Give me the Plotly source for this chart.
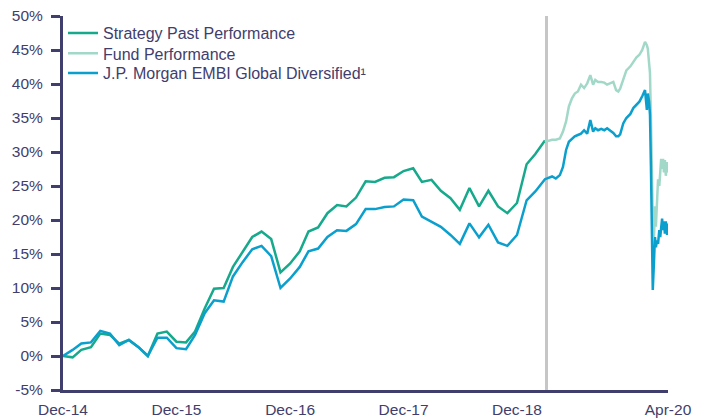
import pandas as pd
import plotly.graph_objects as go

# Monthly section (Dec-14 .. Mar-19)
monthly_dates = [d.strftime("%Y-%m-%d") for d in pd.date_range("2014-12-31", "2019-03-31", freq="ME")]

strategy = [0.0, -0.2, 0.9, 1.3, 3.3, 3.1, 1.8, 2.35, 1.3, 0.0,
            3.3, 3.6, 2.1, 2.0, 3.6, 7.0, 9.9, 10.0, 13.1, 15.3,
            17.5, 18.3, 17.2, 12.3, 13.6, 15.4, 18.3, 18.9, 21.0, 22.2,
            22.0, 23.3, 25.7, 25.6, 26.2, 26.3, 27.2, 27.6, 25.6, 25.9,
            24.3, 23.2, 21.5, 24.7, 22.0, 24.3, 22.0, 21.0, 22.5, 28.2,
            29.7, 31.7]

bench_monthly = [0.0, 0.9, 1.85, 2.0, 3.7, 3.3, 1.6, 2.35, 1.3, 0.0,
                 2.7, 2.7, 1.15, 1.0, 3.1, 6.3, 8.2, 8.0, 11.7, 13.8,
                 15.7, 16.2, 14.7, 10.0, 11.4, 13.1, 15.4, 15.8, 17.5, 18.5,
                 18.4, 19.4, 21.6, 21.6, 21.9, 22.0, 23.0, 22.9, 20.5, 19.75,
                 19.0, 17.8, 16.5, 19.5, 17.45, 19.3, 16.7, 16.2, 17.8, 22.9,
                 24.2, 26.0]

# Daily section (fund inception onward)
daily_dates = ["2019-04-07", "2019-04-23", "2019-05-05", "2019-05-18", "2019-05-28",
               "2019-06-07", "2019-06-16", "2019-06-26", "2019-07-05", "2019-07-15",
               "2019-07-25", "2019-08-04", "2019-08-14", "2019-08-24", "2019-09-02",
               "2019-09-09", "2019-09-18", "2019-09-28", "2019-10-08", "2019-10-17",
               "2019-10-27", "2019-11-06", "2019-11-15", "2019-11-22", "2019-11-28",
               "2019-12-08", "2019-12-18", "2019-12-31", "2020-01-10", "2020-01-19",
               "2020-01-29", "2020-02-07", "2020-02-16", "2020-02-22", "2020-02-25",
               "2020-02-29", "2020-03-03", "2020-03-06", "2020-03-09", "2020-03-12",
               "2020-03-16", "2020-03-19", "2020-03-22", "2020-03-26", "2020-03-29",
               "2020-04-02", "2020-04-05", "2020-04-08", "2020-04-11", "2020-04-14",
               "2020-04-17", "2020-04-20", "2020-04-23", "2020-04-27", "2020-04-30"]

fund_daily = [31.6, 31.8, 31.8, 32.0, 33.0,
              34.5, 36.7, 37.9, 38.6, 38.9,
              39.9, 39.4, 40.1, 41.3, 39.9,
              40.6, 40.3, 40.3, 40.2, 39.9,
              40.1, 40.3, 39.1, 38.9, 39.3,
              40.6, 42.0, 42.6, 43.3, 43.9,
              44.3, 45.0, 46.2, 45.7, 45.2,
              43.0, 41.6, 35.0, 27.0, 20.0,
              17.5, 22.0, 19.0, 24.0, 26.0,
              25.0, 27.5, 29.0, 27.5, 29.0,
              27.0, 28.8, 26.5, 28.5, 27.0]

bench_daily = [26.1, 26.4, 26.1, 26.6, 27.8,
               30.3, 31.5, 32.0, 32.3, 32.5,
               32.7, 33.2, 32.7, 34.7, 33.0,
               33.5, 33.2, 33.4, 33.2, 33.5,
               33.2, 32.8, 32.3, 32.3, 32.6,
               34.2, 35.0, 35.6, 36.5, 37.0,
               37.4, 38.2, 39.1, 36.2, 38.6,
               37.5, 35.5, 28.0, 18.0, 9.7,
               14.0, 17.5, 16.0, 17.0, 16.5,
               18.5, 17.5, 19.5, 20.2, 18.5,
               19.8, 18.0, 19.8, 17.8, 19.5]

inception_date = "2019-04-05"

tick_dates = ["2014-12-31", "2015-12-31", "2016-12-31", "2017-12-31", "2018-12-31", "2020-04-30"]
tick_labels = ["Dec-14", "Dec-15", "Dec-16", "Dec-17", "Dec-18", "Apr-20"]

y_ticks = [-5, 0, 5, 10, 15, 20, 25, 30, 35, 40, 45, 50]
y_labels = [f"{v}%" for v in y_ticks]

series_names = ["Strategy Past Performance", "Fund Performance", "J.P. Morgan EMBI Global Diversified¹"]

navy = "#3f3e6c"
c_strategy = "#17a98b"
c_fund = "#a2d8c8"
c_bench = "#0a9fcd"

fig = go.Figure()
fig.add_trace(go.Scatter(x=monthly_dates, y=strategy, mode="lines",
                         name=series_names[0], legend="legend",
                         line=dict(color=c_strategy, width=2.5)))
fig.add_trace(go.Scatter(x=[monthly_dates[-1]] + daily_dates, y=[strategy[-1]] + fund_daily, mode="lines",
                         name=series_names[1], legend="legend2",
                         line=dict(color=c_fund, width=2.5)))
fig.add_trace(go.Scatter(x=monthly_dates + daily_dates, y=bench_monthly + bench_daily, mode="lines",
                         name=series_names[2], legend="legend3",
                         line=dict(color=c_bench, width=2.5)))

fig.add_shape(type="line", xref="x", yref="paper", x0=inception_date, x1=inception_date,
              y0=0, y1=1, line=dict(color="#c6c6c6", width=3), layer="below")

leg_common = dict(x=0.0, xanchor="left", yanchor="middle",
                  bgcolor="rgba(0,0,0,0)", font=dict(size=16, color=navy), itemwidth=30)

fig.update_layout(
    width=703, height=419,
    margin=dict(l=55, r=43, t=8, b=37, autoexpand=False),
    paper_bgcolor="white", plot_bgcolor="white",
    font=dict(family="Arial, Liberation Sans, sans-serif", size=15.5, color=navy),
    showlegend=True,
    legend=dict(y=0.954, **leg_common),
    legend2=dict(y=0.900, **leg_common),
    legend3=dict(y=0.847, **leg_common),
)
fig.update_xaxes(type="date", range=["2014-12-31", "2020-04-30"], automargin=False,
                 tickmode="array", tickvals=tick_dates, ticktext=tick_labels,
                 showgrid=False, zeroline=False, showline=True, linecolor=navy, linewidth=3,
                 ticks="", ticklabelstandoff=3, ticklabeloverflow="allow",
                 tickfont=dict(size=15.5, color=navy))
fig.update_yaxes(range=[-5, 50], automargin=False, tickmode="array", tickvals=y_ticks, ticktext=y_labels,
                 showgrid=False, zeroline=False, showline=True, linecolor=navy, linewidth=3,
                 ticks="outside", ticklen=9, tickwidth=3, tickcolor=navy, ticklabelstandoff=5,
                 ticklabeloverflow="allow", tickfont=dict(size=15.5, color=navy))

fig.write_html("out.html")
